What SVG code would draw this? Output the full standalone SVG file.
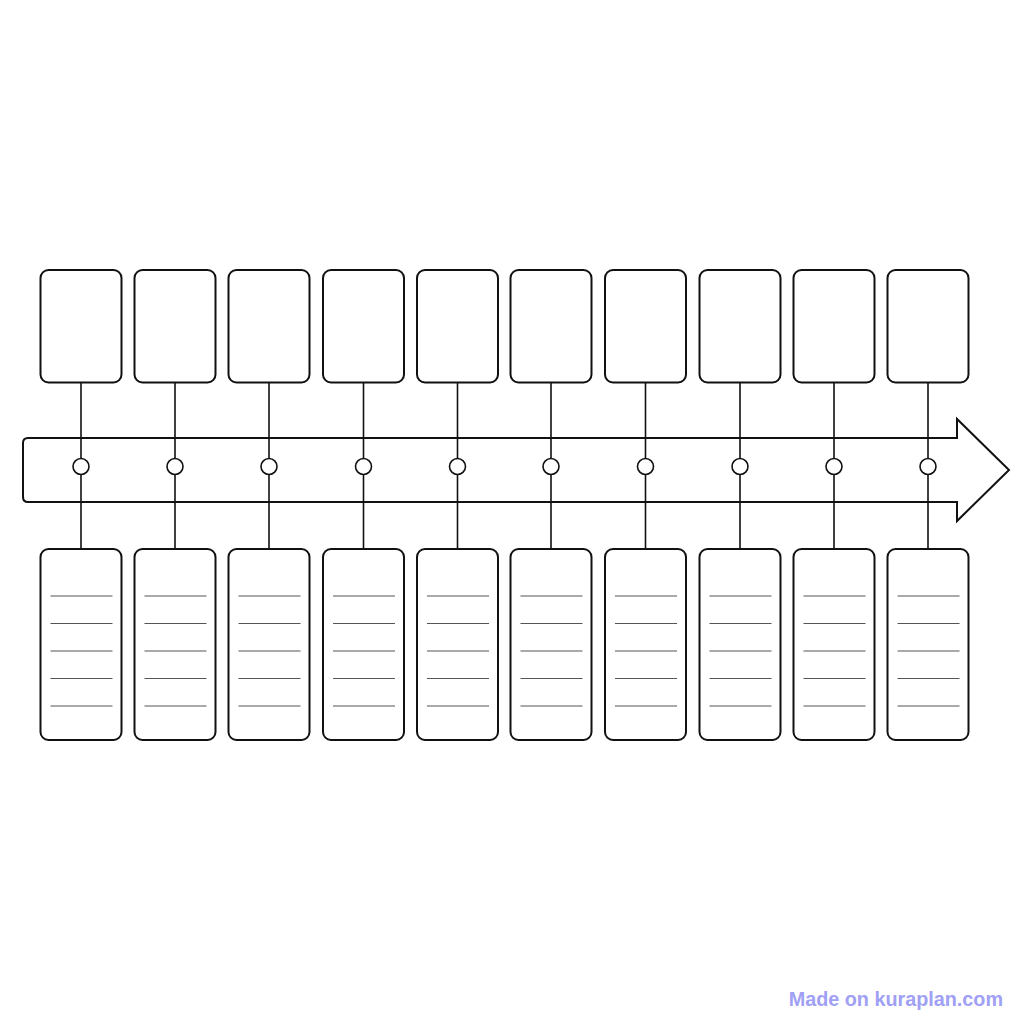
<svg xmlns="http://www.w3.org/2000/svg" width="1024" height="1024" viewBox="0 0 1024 1024">
<style>
.box{fill:#fff;stroke:#111;stroke-width:2}
.conn{stroke:#111;stroke-width:1.6;fill:none}
.dot{fill:#fff;stroke:#111;stroke-width:1.6}
.rule{stroke:#555;stroke-width:1.1}
.wm{font-family:"Liberation Sans",Arial,sans-serif;font-weight:bold;font-size:19.8px;fill:#a0a0f5}
</style>
<defs>
<g id="topbox"><rect class="box" x="-40.5" y="270" width="81" height="112.5" rx="8"/></g>
<g id="botbox"><rect class="box" x="-40.5" y="549" width="81" height="191" rx="8"/>
<line class="rule" x1="-30.5" y1="596" x2="31.5" y2="596"/>
<line class="rule" x1="-30.5" y1="623.5" x2="31.5" y2="623.5"/>
<line class="rule" x1="-30.5" y1="651" x2="31.5" y2="651"/>
<line class="rule" x1="-30.5" y1="678.5" x2="31.5" y2="678.5"/>
<line class="rule" x1="-30.5" y1="706" x2="31.5" y2="706"/>
</g>
</defs>
<rect width="1024" height="1024" fill="#fff"/>
<g id="timeline-arrow">
<path class="box" d="M957,438 L957,419 L1009,470 L957,521 L957,502 L28,502 Q23,502 23,497 L23,443 Q23,438 28,438 Z" stroke-linejoin="miter"/>
</g>
<g id="connectors">
<line class="conn" x1="81" y1="382.5" x2="81" y2="549"/>
<line class="conn" x1="175" y1="382.5" x2="175" y2="549"/>
<line class="conn" x1="269" y1="382.5" x2="269" y2="549"/>
<line class="conn" x1="363.5" y1="382.5" x2="363.5" y2="549"/>
<line class="conn" x1="457.5" y1="382.5" x2="457.5" y2="549"/>
<line class="conn" x1="551" y1="382.5" x2="551" y2="549"/>
<line class="conn" x1="645.5" y1="382.5" x2="645.5" y2="549"/>
<line class="conn" x1="740" y1="382.5" x2="740" y2="549"/>
<line class="conn" x1="834" y1="382.5" x2="834" y2="549"/>
<line class="conn" x1="928" y1="382.5" x2="928" y2="549"/>
</g>
<g id="dots">
<circle class="dot" cx="81" cy="466.5" r="8"/>
<circle class="dot" cx="175" cy="466.5" r="8"/>
<circle class="dot" cx="269" cy="466.5" r="8"/>
<circle class="dot" cx="363.5" cy="466.5" r="8"/>
<circle class="dot" cx="457.5" cy="466.5" r="8"/>
<circle class="dot" cx="551" cy="466.5" r="8"/>
<circle class="dot" cx="645.5" cy="466.5" r="8"/>
<circle class="dot" cx="740" cy="466.5" r="8"/>
<circle class="dot" cx="834" cy="466.5" r="8"/>
<circle class="dot" cx="928" cy="466.5" r="8"/>
</g>
<g id="node-1"><use href="#topbox" x="81"/><use href="#botbox" x="81"/></g>
<g id="node-2"><use href="#topbox" x="175"/><use href="#botbox" x="175"/></g>
<g id="node-3"><use href="#topbox" x="269"/><use href="#botbox" x="269"/></g>
<g id="node-4"><use href="#topbox" x="363.5"/><use href="#botbox" x="363.5"/></g>
<g id="node-5"><use href="#topbox" x="457.5"/><use href="#botbox" x="457.5"/></g>
<g id="node-6"><use href="#topbox" x="551"/><use href="#botbox" x="551"/></g>
<g id="node-7"><use href="#topbox" x="645.5"/><use href="#botbox" x="645.5"/></g>
<g id="node-8"><use href="#topbox" x="740"/><use href="#botbox" x="740"/></g>
<g id="node-9"><use href="#topbox" x="834"/><use href="#botbox" x="834"/></g>
<g id="node-10"><use href="#topbox" x="928"/><use href="#botbox" x="928"/></g>
<text class="wm" x="1003" y="1006" text-anchor="end">Made on kuraplan.com</text>
</svg>
